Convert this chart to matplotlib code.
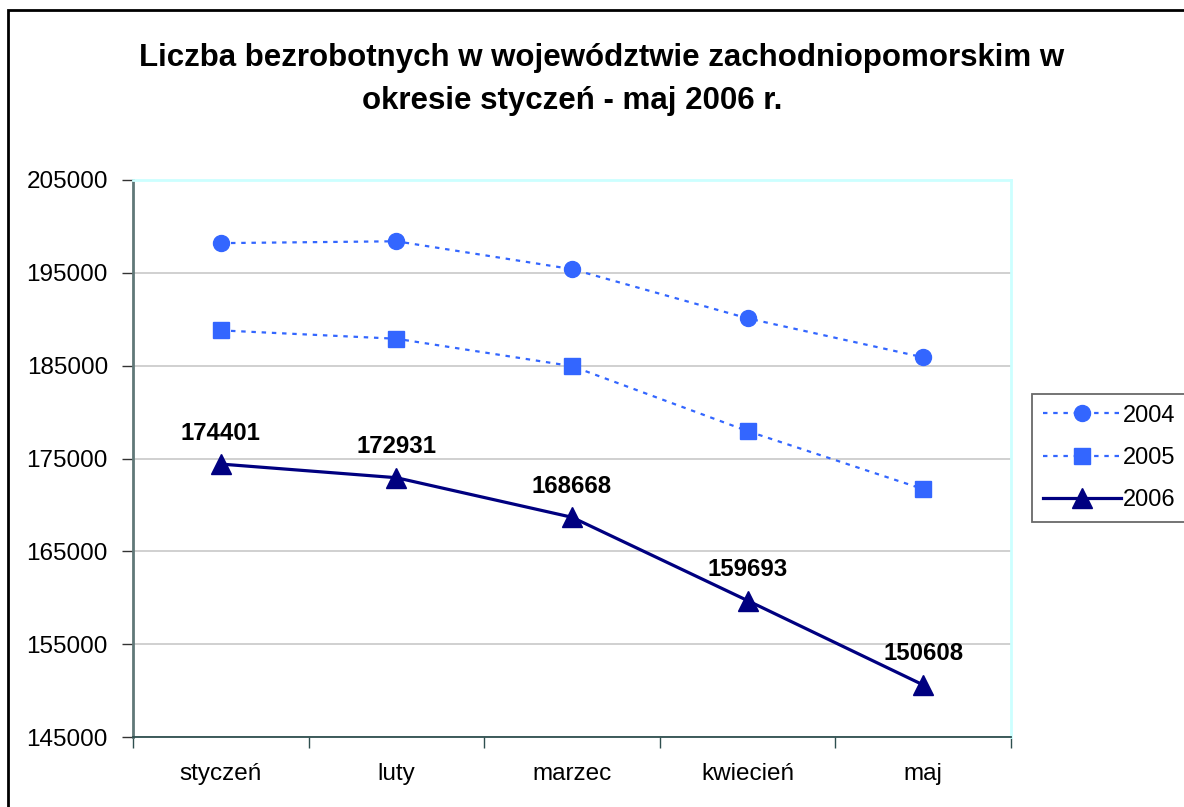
import matplotlib
matplotlib.use("Agg")
import matplotlib.pyplot as plt
from matplotlib.patches import Rectangle

plt.rcParams['font.family'] = ['Liberation Sans', 'DejaVu Sans']

months = ["styczeń", "luty", "marzec", "kwiecień", "maj"]
y2004 = [198200, 198400, 195400, 190100, 185900]
y2005 = [188800, 187900, 184950, 177950, 171700]
y2006 = [174401, 172931, 168668, 159693, 150608]
yticks = [145000, 155000, 165000, 175000, 185000, 195000, 205000]

W, H = 1184, 807
fig = plt.figure(figsize=(W / 100, H / 100), dpi=100)
ax = fig.add_axes([133 / W, 1 - 737 / H, (1011 - 133) / W, (737 - 180) / H])

x = list(range(len(months)))
blue = "#3366FF"
navy = "#000080"
ax.plot(x, y2004, color=blue, linestyle=(0, (2, 2.6)), linewidth=1.6,
        marker="o", markersize=11.5, label="2004", zorder=3)
ax.plot(x, y2005, color=blue, linestyle=(0, (2, 2.6)), linewidth=1.6,
        marker="s", markersize=11, label="2005", zorder=3)
ax.plot(x, y2006, color=navy, linestyle="-", linewidth=2.3,
        marker="^", markersize=14, label="2006", zorder=4)

for xi, v in zip(x, y2006):
    ax.annotate(str(v), (xi, v), xytext=(0, 14), textcoords="offset points",
                ha="center", va="bottom", fontsize=17.3, fontweight="bold")

ax.set_xlim(-0.5, 4.5)
ax.set_ylim(145000, 205000)
ax.set_yticks(yticks)
ax.set_yticklabels([str(t) for t in yticks])
ax.set_xticks(x)
ax.set_xticklabels(months)
ax.tick_params(axis="x", length=0, pad=19, labelsize=17.5)
ax.set_xticks([i - 0.5 for i in range(6)], minor=True)
ax.tick_params(axis="x", which="minor", length=8, width=1, color="#2F4F4F", direction="out")
ax.tick_params(axis="y", length=8, width=1, color="#333333", pad=10, labelsize=17.5)

ax.grid(axis="y", color="#C8C8C8", linewidth=1.2)
ax.set_axisbelow(True)
ax.spines["left"].set_color("#607878")
ax.spines["left"].set_linewidth(2)
ax.spines["bottom"].set_color("#2F4F4F")
ax.spines["bottom"].set_linewidth(1.3)
ax.spines["top"].set_color("#CCFFFF")
ax.spines["top"].set_linewidth(2)
ax.spines["right"].set_color("#CCFFFF")
ax.spines["right"].set_linewidth(2)

fig.text(602 / W, 1 - 58 / H, "Liczba bezrobotnych w województwie zachodniopomorskim w",
         ha="center", va="center", fontsize=22.5, fontweight="bold")
fig.text(572 / W, 1 - 101 / H, "okresie styczeń - maj 2006 r.",
         ha="center", va="center", fontsize=22.5, fontweight="bold")

leg = fig.legend(loc="upper left", bbox_to_anchor=(1032 / W, 1 - 394 / H),
                 fontsize=17, frameon=True, fancybox=False, edgecolor="#444444",
                 handlelength=3.3, handletextpad=0.12, borderpad=0.45, labelspacing=0.86,
                 borderaxespad=0)
leg.get_frame().set_linewidth(1.3)

fig.patches.append(Rectangle((8 / W, -0.1), 1.2, 1 - 10 / H + 0.1, transform=fig.transFigure,
                             fill=False, edgecolor="black", linewidth=2))

fig.savefig("out.png", dpi=100)
